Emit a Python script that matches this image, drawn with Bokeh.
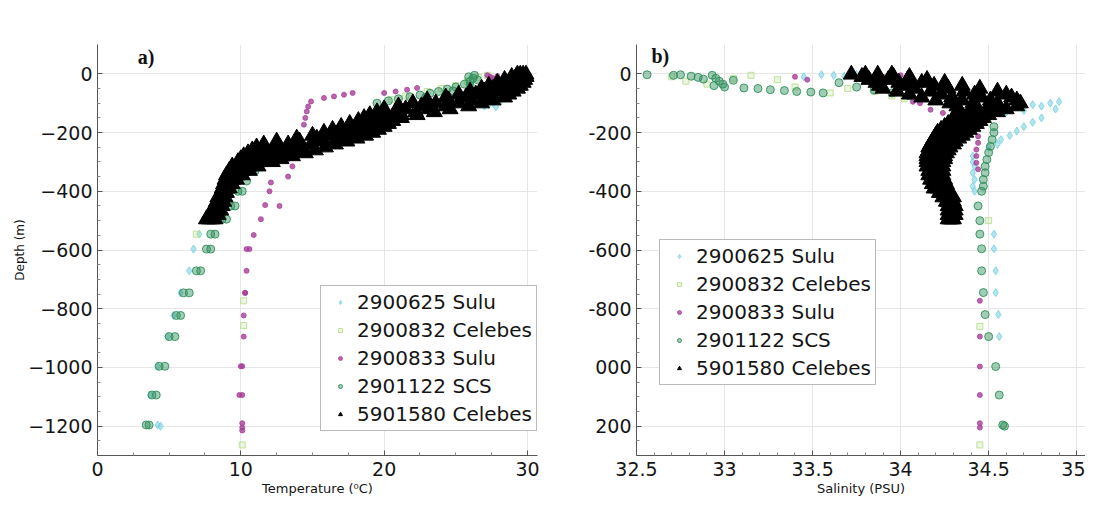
from bokeh.plotting import figure
from bokeh.layouts import row
from bokeh.models import FixedTicker, Legend, LegendItem, Label, NumeralTickFormatter
from bokeh.embed import file_html
from bokeh.resources import INLINE

# ---------------- data ----------------
series_names = ["2900625 Sulu", "2900832 Celebes", "2900833 Sulu", "2901122 SCS", "5901580 Celebes"]

# 2900625 Sulu
f625_temp = [29.3, 29.0, 28.8, 28.5, 28.2, 27.9, 27.6, 27.3, 27.0, 26.7, 27.8, 28.1,
             7.1, 6.7, 6.4, 5.8, 5.3, 4.9, 4.2, 3.7, 4.2, 4.4]
f625_tdep = [-12, -25, -40, -60, -75, -88, -98, -105, -110, -100, -112, -95,
             -546, -597, -671, -746, -823, -895, -996, -1094, -1196, -1200]
f625_sal = [33.55, 33.62, 33.68, 33.75, 33.45,
            34.68, 34.75, 34.80, 34.85, 34.90, 34.88, 34.80, 34.75, 34.70, 34.66, 34.62, 34.57, 34.60, 34.70, 34.55, 34.50,
            34.41, 34.41, 34.42, 34.41, 34.42, 34.41, 34.42,
            34.53, 34.53, 34.54, 34.54, 34.555, 34.56]
f625_sdep = [-3, -5, -8, -2, -10,
             -100, -105, -110, -100, -95, -120, -150, -165, -180, -195, -210, -224, -130, -125, -240, -250,
             -280, -300, -315, -337, -360, -383, -400,
             -546, -596, -671, -745, -820, -895]

# 2900832 Celebes
f832_temp = [10.2, 10.2, 10.1, 23.0, 24.0, 25.0, 25.8, 26.6, 27.2, 21.5, 20.5, 6.9]
f832_tdep = [-773, -857, -1264, -60, -50, -40, -25, -12, -5, -75, -88, -546]
f832_sal = [32.70, 32.78, 32.90, 33.05, 33.15, 33.30, 33.40, 33.60, 33.70, 33.85, 33.95, 34.02,
            34.45, 34.45, 34.50]
f832_sdep = [-10, -25, -35, -15, -5, -20, -45, -65, -50, -60, -75, -85,
             -860, -1264, -500]

# 2900833 Sulu
f833_temp = [27.2, 27.4, 27.6, 27.8, 27.3, 27.6, 27.9,
             14.4, 14.5, 14.6, 14.7, 14.9, 15.8, 16.5, 17.2, 17.8, 20.0, 20.8, 21.6, 22.3,
             12.8, 13.3, 13.6, 13.3, 12.1, 12.0, 12.7, 11.7, 11.4, 10.9, 10.6, 10.4, 10.3, 10.2, 10.2,
             10.1, 10.1, 10.1, 10.1, 10.1, 10.4, 10.0, 9.9, 10.3]
f833_tdep = [-5, -10, -15, -20, -25, -30, -8,
             -173, -150, -128, -111, -94, -82, -77, -71, -65, -65, -60, -54, -48,
             -260, -290, -315, -350, -370, -400, -450, -447, -495, -549, -597, -671, -746, -823, -895,
             -996, -1094, -1190, -1205, -1215, -597, -996, -1094, -746]
f833_sal = [33.40, 33.47, 33.90, 33.97, 34.05, 34.12, 34.18, 34.00, 34.11, 34.17, 34.24, 34.07,
            34.44, 34.44, 34.43, 34.43, 34.43, 34.44,
            34.45, 34.45, 34.45, 34.45, 34.45, 34.45]
f833_sdep = [-10, -20, -10, -20, -30, -40, -50, -5, -100, -122, -133, -95,
             -213, -235, -258, -280, -303, -325,
             -773, -895, -997, -1094, -1190, -1205]

# 2901122 SCS
f122_temp = [19.5, 20.3, 21.0, 21.8, 22.5, 23.2, 23.8, 24.4, 25.0, 25.6, 26.0, 26.2, 26.3, 26.0, 25.9, 26.5, 24.8, 22.9,
             11.8, 11.0, 10.4,
             9.8, 10.1, 9.3, 9.6, 8.7, 9.0, 7.9, 8.2, 7.6, 7.9, 6.9, 7.2, 6.0, 6.4, 5.5, 5.8, 5.0, 5.4,
             4.3, 4.7, 3.8, 4.1, 3.4, 3.6]
f122_tdep = [-100, -92, -85, -78, -72, -66, -60, -52, -45, -35, -25, -15, -5, -40, -10, -20, -58, -80,
             -300, -330, -365,
             -400, -400, -450, -450, -495, -495, -546, -546, -597, -597, -671, -671, -746, -746, -823, -823, -895, -895,
             -996, -996, -1094, -1094, -1196, -1196]
f122_sal = [32.56, 32.71, 32.75, 32.81, 32.85, 32.88, 32.93, 32.95, 32.97, 32.99, 33.00, 32.94, 33.05, 33.11, 33.19,
            33.26, 33.34, 33.41, 33.49, 33.56, 33.75, 33.85, 33.95, 34.05, 33.65,
            34.53, 34.53, 34.52, 34.51, 34.50, 34.49, 34.48, 34.48, 34.47, 34.47, 34.46,
            34.44, 34.45, 34.45, 34.46, 34.46, 34.47, 34.48, 34.50, 34.54, 34.56, 34.58, 34.59]
f122_sdep = [-3, -5, -3, -8, -12, -18, -5, -15, -25, -35, -45, -40, -22, -48, -50,
             -54, -57, -60, -62, -65, -45, -55, -65, -75, -30,
             -180, -200, -224, -247, -268, -292, -315, -337, -360, -383, -400,
             -450, -500, -546, -596, -671, -745, -820, -895, -997, -1094, -1196, -1200]

# 5901580 Celebes: four profiles on common depth levels
f580_levels = [-2, -10, -20, -30, -40, -50, -60, -70, -80, -90, -100, -110, -120, -130, -140, -150, -160, -170,
               -180, -190, -200, -210, -220, -230, -240, -250, -260, -270, -280, -290, -300, -315, -330, -345,
               -360, -375, -390, -405, -420, -435, -450, -465, -480, -495]
f580_temp_a = [29.3, 28.9, 28.4, 27.9, 27.3, 26.8, 26.0, 25.2, 24.3, 23.0, 22.0, 21.0, 20.0, 19.5, 19.0, 18.6,
               18.2, 17.6, 17.0, 16.4, 15.8, 15.0, 13.9, 12.5, 11.6, 11.1, 10.8, 10.5, 10.2, 10.0, 9.8, 9.4, 9.2,
               9.0, 8.9, 8.8, 8.7, 8.6, 8.4, 8.3, 8.2, 8.0, 7.8, 7.6]
f580_temp_b = [29.5, 29.2, 28.9, 28.5, 28.0, 27.6, 27.0, 26.4, 25.7, 24.5, 23.6, 22.6, 21.5, 20.8, 20.1, 19.5,
               19.0, 18.5, 18.0, 17.5, 16.9, 16.2, 15.3, 14.1, 13.3, 12.7, 12.3, 11.8, 11.3, 10.9, 10.6, 10.0, 9.7,
               9.4, 9.2, 9.0, 8.9, 8.7, 8.6, 8.5, 8.4, 8.2, 8.0, 7.8]
f580_temp_c = [29.7, 29.6, 29.3, 29.1, 28.8, 28.5, 28.0, 27.5, 27.0, 26.1, 25.2, 24.3, 23.1, 22.2, 21.2, 20.3,
               19.8, 19.4, 19.0, 18.5, 18.1, 17.5, 16.7, 15.8, 14.9, 14.3, 13.7, 13.2, 12.5, 11.9, 11.4, 10.6, 10.1,
               9.7, 9.4, 9.2, 9.0, 8.9, 8.7, 8.6, 8.5, 8.4, 8.2, 8.0]
f580_temp_d = [29.9, 29.9, 29.8, 29.7, 29.5, 29.3, 29.0, 28.7, 28.4, 27.6, 26.8, 25.9, 24.6, 23.5, 22.3, 21.2,
               20.6, 20.3, 20.0, 19.6, 19.2, 18.7, 18.1, 17.4, 16.6, 15.9, 15.2, 14.5, 13.6, 12.8, 12.2, 11.2, 10.6,
               10.1, 9.7, 9.4, 9.2, 9.0, 8.9, 8.8, 8.7, 8.6, 8.4, 8.2]
f580_sal_a = [33.72, 33.78, 33.82, 33.86, 33.88, 33.90, 33.98, 34.05, 34.12, 34.20, 34.28, 34.32, 34.33, 34.33,
              34.32, 34.31, 34.29, 34.27, 34.25, 34.23, 34.21, 34.20, 34.19, 34.18, 34.17, 34.16, 34.16, 34.15,
              34.15, 34.15, 34.15, 34.15, 34.16, 34.16, 34.17, 34.18, 34.19, 34.22, 34.24, 34.26, 34.27, 34.27,
              34.27, 34.27]
f580_sal_b = [33.80, 33.87, 33.93, 33.99, 34.04, 34.08, 34.17, 34.23, 34.29, 34.35, 34.41, 34.43, 34.42, 34.40,
              34.38, 34.36, 34.34, 34.32, 34.30, 34.28, 34.26, 34.25, 34.24, 34.22, 34.21, 34.20, 34.20, 34.19,
              34.18, 34.18, 34.18, 34.18, 34.19, 34.19, 34.20, 34.21, 34.21, 34.23, 34.26, 34.27, 34.28, 34.28,
              34.28, 34.28]
f580_sal_c = [33.87, 33.96, 34.04, 34.12, 34.19, 34.27, 34.36, 34.42, 34.46, 34.51, 34.55, 34.55, 34.51, 34.48,
              34.44, 34.42, 34.40, 34.38, 34.36, 34.34, 34.32, 34.30, 34.28, 34.27, 34.26, 34.24, 34.23, 34.22,
              34.22, 34.22, 34.21, 34.21, 34.21, 34.21, 34.22, 34.23, 34.24, 34.25, 34.28, 34.29, 34.30, 34.30,
              34.30, 34.29]
f580_sal_d = [33.95, 34.05, 34.15, 34.25, 34.35, 34.45, 34.55, 34.60, 34.63, 34.66, 34.68, 34.66, 34.60, 34.55,
              34.50, 34.47, 34.45, 34.43, 34.41, 34.39, 34.37, 34.35, 34.33, 34.31, 34.30, 34.28, 34.27, 34.26,
              34.25, 34.25, 34.24, 34.24, 34.24, 34.24, 34.25, 34.26, 34.26, 34.27, 34.30, 34.30, 34.31, 34.31,
              34.31, 34.30]

temp_ticks = [0, 10, 20, 30]
sal_ticks = [32.5, 33, 33.5, 34, 34.5, 35]
depth_ticks = [0, -200, -400, -600, -800, -1000, -1200]
depth_labels_b = ["0", "-200", "-400", "-600", "-800", "000", "200"]

f580_temp = f580_temp_a + f580_temp_b + f580_temp_c + f580_temp_d
f580_sal = f580_sal_a + f580_sal_b + f580_sal_c + f580_sal_d
f580_dep = f580_levels * 4

# ---------------- styling ----------------
colors = ["#74cfe0", "#bfe19a", "#a8409a", "#2f8f5a", "#000000"]
FONT = "DejaVu Sans"


def style(p, xticks, xminor):
    p.outline_line_color = None
    p.background_fill_color = "white"
    p.border_fill_color = "white"
    p.xaxis.ticker = FixedTicker(ticks=xticks, minor_ticks=xminor)
    p.yaxis.ticker = FixedTicker(ticks=depth_ticks,
                                 minor_ticks=[-50, -100, -150, -250, -300, -350, -450, -500, -550, -650, -700, -750,
                                              -850, -900, -950, -1050, -1100, -1150, -1250])
    for ax in p.axis:
        ax.axis_line_color = "#555555"
        ax.axis_line_width = 1
        ax.major_tick_line_color = "#555555"
        ax.minor_tick_line_color = "#888888"
        ax.major_tick_in = 5
        ax.major_tick_out = 0
        ax.minor_tick_in = 3
        ax.minor_tick_out = 0
        ax.major_label_text_font = FONT
        ax.major_label_text_font_size = "19px"
        ax.major_label_text_color = "#151515"
        ax.axis_label_text_font = FONT
        ax.axis_label_text_font_style = "normal"
        ax.axis_label_text_color = "#151515"
    p.xaxis.major_label_standoff = 6
    p.yaxis.major_label_standoff = 5
    p.xaxis.axis_label_text_font_size = "13px"
    p.xaxis.axis_label_standoff = 2
    p.xgrid.grid_line_color = "#e6e6e6"
    p.ygrid.grid_line_color = "#e6e6e6"


def add_points(p, xs_list, ys_list):
    rs = []
    r = p.scatter(xs_list[0], ys_list[0], marker="diamond", size=8, fill_color=colors[0], fill_alpha=0.55,
                  line_color=colors[0], line_alpha=0.8)
    rs.append(r)
    r = p.scatter(xs_list[1], ys_list[1], marker="square", size=6, fill_color=colors[1], fill_alpha=0.3,
                  line_color=colors[1])
    rs.append(r)
    r = p.scatter(xs_list[2], ys_list[2], marker="circle", size=5, fill_color=colors[2], fill_alpha=0.8,
                  line_color=colors[2], line_alpha=0.8)
    rs.append(r)
    r = p.scatter(xs_list[3], ys_list[3], marker="circle", size=8, fill_color=colors[3], fill_alpha=0.45,
                  line_color=colors[3], line_alpha=0.9)
    rs.append(r)
    r = p.scatter(xs_list[4], ys_list[4], marker="triangle", size=16, fill_color=colors[4], line_color=colors[4])
    rs.append(r)
    return rs


def add_legend(p, rs, loc):
    leg = Legend(items=[LegendItem(label=n, renderers=[r]) for n, r in zip(series_names, rs)],
                 location=loc, orientation="vertical")
    leg.label_text_font = FONT
    leg.label_text_font_size = "20px"
    leg.label_text_color = "#151515"
    leg.glyph_width = 30
    leg.glyph_height = 10
    leg.label_height = 24
    leg.label_standoff = 2
    leg.spacing = 4
    leg.padding = 4
    leg.margin = 0
    leg.border_line_color = "#777777"
    leg.border_line_width = 1.5
    leg.background_fill_color = "white"
    leg.background_fill_alpha = 1.0
    p.add_layout(leg)


# ---------------- panel a ----------------
p1 = figure(frame_width=440, frame_height=411, x_range=(0, 30.7), y_range=(-1300, 100),
            output_backend="svg", toolbar_location=None,
            min_border_left=97, min_border_right=21, min_border_top=44, min_border_bottom=50)
style(p1, temp_ticks, [2.5, 5, 7.5, 12.5, 15, 17.5, 22.5, 25, 27.5])
p1.xaxis.axis_label = "Temperature (\u2070C)"
p1.yaxis.axis_label = "Depth (m)"
p1.yaxis.axis_label_text_font_size = "12px"
p1.yaxis.axis_label_standoff = -2
rs1 = add_points(p1, [f625_temp, f832_temp, f833_temp, f122_temp, f580_temp],
                 [f625_tdep, f832_tdep, f833_tdep, f122_tdep, f580_dep])
add_legend(p1, rs1, (223, 24))
p1.add_layout(Label(x=2.8, y=58, text="a)", text_font="Liberation Serif", text_font_style="bold",
                    text_font_size="20px", text_baseline="middle", text_color="#111111"))

# ---------------- panel b ----------------
p2 = figure(frame_width=449, frame_height=411, x_range=(32.5, 35.05), y_range=(-1300, 100),
            output_backend="svg", toolbar_location=None,
            min_border_left=78, min_border_right=0, min_border_top=44, min_border_bottom=50)
style(p2, sal_ticks, [32.6, 32.7, 32.8, 32.9, 33.1, 33.2, 33.3, 33.4, 33.6, 33.7, 33.8, 33.9,
                      34.1, 34.2, 34.3, 34.4, 34.6, 34.7, 34.8, 34.9])
p2.xaxis.formatter = NumeralTickFormatter(format="0.[0]")
p2.yaxis.major_label_overrides = {t: s for t, s in zip(depth_ticks, depth_labels_b)}
p2.xaxis.axis_label = "Salinity (PSU)"
rs2 = add_points(p2, [f625_sal, f832_sal, f833_sal, f122_sal, f580_sal],
                 [f625_sdep, f832_sdep, f833_sdep, f122_sdep, f580_dep])
add_legend(p2, rs2, (23, 70))
p2.add_layout(Label(x=32.585, y=61, text="b)", text_font="Liberation Serif", text_font_style="bold",
                    text_font_size="20px", text_baseline="middle", text_color="#111111"))

layout = row(p1, p2)
open("out.html", "w").write(file_html(layout, INLINE))
